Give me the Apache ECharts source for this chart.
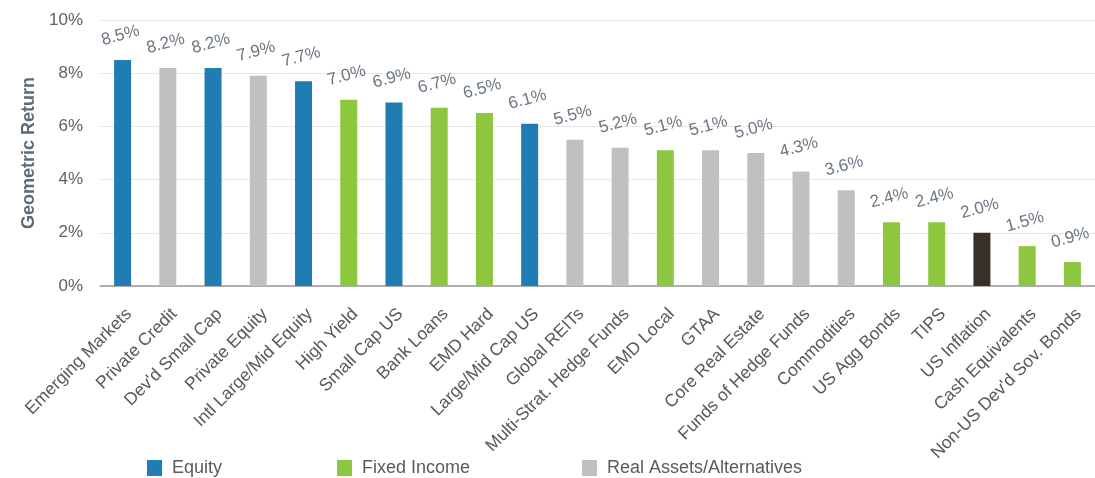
<!DOCTYPE html>
<html>
<head>
<meta charset="utf-8">
<script src="https://cdn.jsdelivr.net/npm/echarts@6/dist/echarts.min.js"></script>
<style>
  html, body { margin: 0; padding: 0; background: #fff; }
  #main { width: 1095px; height: 478px; }
</style>
</head>
<body>
<div id="main"></div>
<script>
var categories = ['Emerging Markets', 'Private Credit', "Dev'd Small Cap", 'Private Equity', 'Intl Large/Mid Equity',
    'High Yield', 'Small Cap US', 'Bank Loans', 'EMD Hard', 'Large/Mid Cap US', 'Global REITs',
    'Multi-Strat. Hedge Funds', 'EMD Local', 'GTAA', 'Core Real Estate', 'Funds of Hedge Funds',
    'Commodities', 'US Agg Bonds', 'TIPS', 'US Inflation', 'Cash Equivalents', "Non-US Dev'd Sov. Bonds"];
var returns = [8.5, 8.2, 8.2, 7.9, 7.7, 7.0, 6.9, 6.7, 6.5, 6.1, 5.5, 5.2, 5.1, 5.1, 5.0, 4.3, 3.6, 2.4, 2.4, 2.0, 1.5, 0.9];
// E = equity, F = fixed income, R = real assets/alternatives, I = inflation
var groups = ['E', 'R', 'E', 'R', 'E', 'F', 'E', 'F', 'F', 'E', 'R', 'R', 'F', 'R', 'R', 'R', 'R', 'F', 'F', 'I', 'F', 'F'];
var yTicks = [0, 2, 4, 6, 8, 10];

var groupInfo = [
    {key: 'E', name: 'Equity', color: '#1f7db3'},
    {key: 'F', name: 'Fixed Income', color: '#8dc63f'},
    {key: 'R', name: 'Real Assets/Alternatives', color: '#c0c0c0'},
    {key: 'I', name: 'US Inflation', color: '#382f26'}
];

var FONT = 'Liberation Sans';

var seriesList = groupInfo.map(function (g) {
    return {
        name: g.name,
        type: 'bar',
        stack: 'all',
        barWidth: 17,
        itemStyle: {color: g.color},
        label: {
            show: true,
            position: 'top',
            distance: 16,
            rotate: 15,
            color: '#6b7682',
            fontSize: 17,
            fontFamily: FONT,
            formatter: function (p) { return p.value.toFixed(1) + '%'; }
        },
        data: returns.map(function (v, i) { return groups[i] === g.key ? v : '-'; })
    };
});

function mkLegend(name, left) {
    return {
        data: [name],
        left: left,
        top: 459,
        padding: 0,
        icon: 'rect',
        itemWidth: 15,
        itemHeight: 16,
        selectedMode: false,
        textStyle: {color: '#5a5a5a', fontSize: 18, fontFamily: FONT, padding: [0, 0, 0, 5]}
    };
}

var chart = echarts.init(document.getElementById('main'));
chart.setOption({
    animation: false,
    legend: [mkLegend('Equity', 147), mkLegend('Fixed Income', 337), mkLegend('Real Assets/Alternatives', 582)],
    grid: {left: 100, right: 0, top: 20, bottom: 192, containLabel: false},
    xAxis: {
        type: 'category',
        data: categories,
        axisTick: {show: false},
        axisLine: {lineStyle: {color: '#999', width: 1.5}},
        axisLabel: {
            interval: 0,
            rotate: 45,
            color: '#595959',
            fontSize: 17.5,
            fontFamily: FONT,
            verticalAlign: 'top',
            margin: 19
        }
    },
    yAxis: {
        type: 'value',
        min: yTicks[0],
        max: yTicks[yTicks.length - 1],
        interval: 2,
        name: 'Geometric Return',
        nameLocation: 'middle',
        nameGap: 62,
        nameTextStyle: {color: '#5d6b78', fontSize: 18, fontWeight: 'bold', fontFamily: FONT},
        axisLabel: {
            color: '#616161',
            fontSize: 17,
            fontFamily: FONT,
            margin: 17,
            formatter: function (v) { return v + '%'; }
        },
        splitLine: {lineStyle: {color: '#e8e8e8'}}
    },
    series: seriesList
});
</script>
</body>
</html>
